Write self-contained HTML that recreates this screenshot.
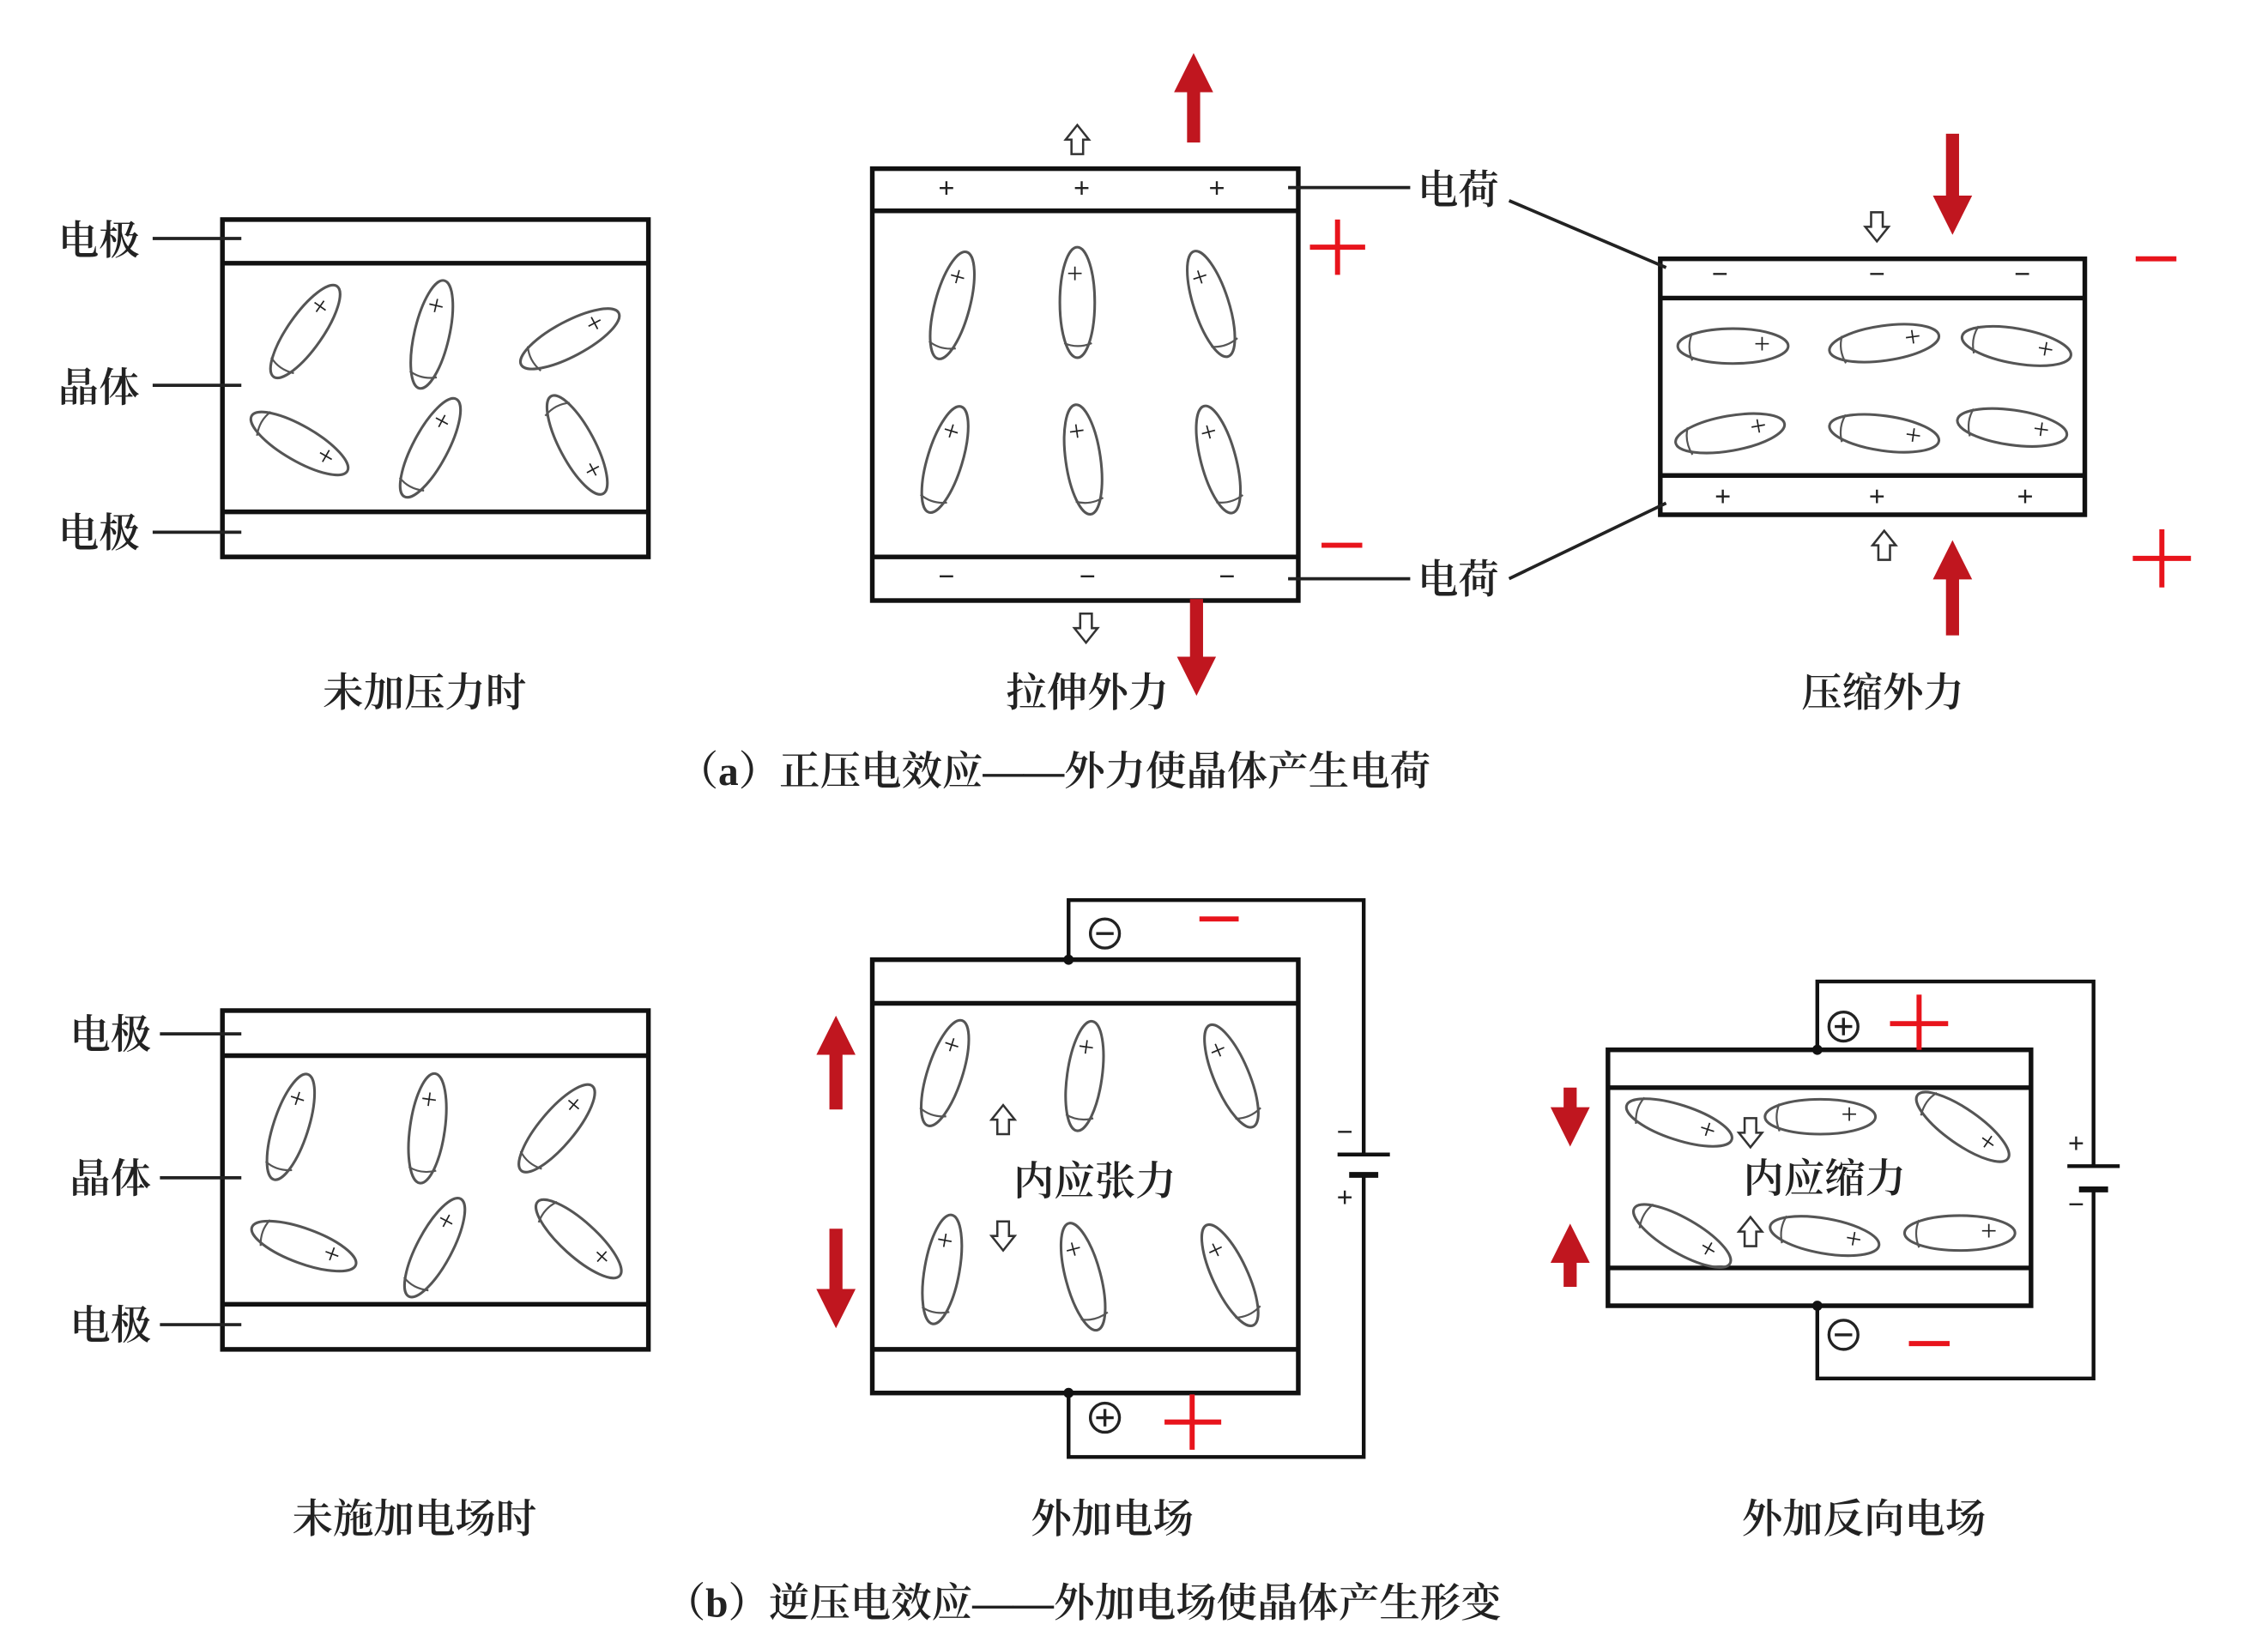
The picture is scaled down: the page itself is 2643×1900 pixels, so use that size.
<!DOCTYPE html>
<html><head><meta charset="utf-8"><style>
html,body{margin:0;padding:0;background:#fff;}
svg{display:block;}
text{font-family:"Liberation Serif","Noto Serif CJK SC","Noto Sans CJK SC",serif;fill:#222;}
.t{font-size:28px;font-weight:600;}
.s{font-size:20px;}
</style></head><body>
<svg width="2643" height="1900" viewBox="0 0 1560 1121" preserveAspectRatio="none" xmlns="http://www.w3.org/2000/svg">
<defs>
<marker id="rh" viewBox="0 0 10 10" refX="5" refY="5" markerWidth="3" markerHeight="3.4" orient="auto"><path d="M0,0 L10,5 L0,10 z" fill="#c0161f"/></marker>
<g id="eh"><ellipse rx="38" ry="12" fill="none" stroke="#555" stroke-width="1.8"/><path d="M-28,-9 Q-32,0 -28,10" fill="none" stroke="#555" stroke-width="1.3"/><text x="20" y="5" class="s" font-size="14" text-anchor="middle">+</text></g>
<g id="hol"><path d="M-4,0 L-4,-10 L-8,-10 L0,-20 L8,-10 L4,-10 L4,0 z" fill="#fff" stroke="#333" stroke-width="1.5"/></g>
</defs>

<g stroke="#111" stroke-width="3.2" fill="none">
<rect x="153" y="151" width="293" height="232"/>
<line x1="153" y1="181" x2="446" y2="181"/><line x1="153" y1="352" x2="446" y2="352"/>
<rect x="600" y="116" width="293" height="297"/>
<line x1="600" y1="145" x2="893" y2="145"/><line x1="600" y1="383" x2="893" y2="383"/>
<rect x="1142" y="178" width="292" height="176"/>
<line x1="1142" y1="205" x2="1434" y2="205"/><line x1="1142" y1="327" x2="1434" y2="327"/>
<rect x="153" y="695" width="293" height="233"/>
<line x1="153" y1="726" x2="446" y2="726"/><line x1="153" y1="897" x2="446" y2="897"/>
<rect x="600" y="660" width="293" height="298"/>
<line x1="600" y1="690" x2="893" y2="690"/><line x1="600" y1="928" x2="893" y2="928"/>
<rect x="1106" y="722" width="291" height="176"/>
<line x1="1106" y1="748" x2="1397" y2="748"/><line x1="1106" y1="872" x2="1397" y2="872"/>
</g>

<g stroke="#222" stroke-width="2.2">
<line x1="105" y1="164" x2="166" y2="164"/><line x1="105" y1="265" x2="166" y2="265"/><line x1="105" y1="366" x2="166" y2="366"/>
<line x1="110" y1="711" x2="166" y2="711"/><line x1="110" y1="810" x2="166" y2="810"/><line x1="110" y1="911" x2="166" y2="911"/>
<line x1="886" y1="129" x2="970" y2="129"/><line x1="886" y1="398" x2="970" y2="398"/>
<line x1="1038" y1="138" x2="1146" y2="184"/><line x1="1038" y1="398" x2="1146" y2="346"/>
</g>

<g stroke="#111" stroke-width="2.6" fill="none">
<polyline points="735,660 735,619 938,619 938,794"/>
<polyline points="938,808 938,1002 735,1002 735,958"/>
<line x1="920" y1="794" x2="956" y2="794"/><line x1="928" y1="808" x2="948" y2="808" stroke-width="4"/>
<polyline points="1250,722 1250,675 1440,675 1440,802"/>
<polyline points="1440,818 1440,948 1250,948 1250,898"/>
<line x1="1422" y1="802" x2="1458" y2="802"/><line x1="1430" y1="818" x2="1450" y2="818" stroke-width="4"/>
</g>
<circle cx="735" cy="660" r="3.5" fill="#111"/><circle cx="735" cy="958" r="3.5" fill="#111"/>
<circle cx="1250" cy="722" r="3.5" fill="#111"/><circle cx="1250" cy="898" r="3.5" fill="#111"/>

<use href="#eh" transform="translate(210,228) rotate(-55)"/>
<use href="#eh" transform="translate(297,230) rotate(-77)"/>
<use href="#eh" transform="translate(392,233) rotate(-28)"/>
<use href="#eh" transform="translate(206,305) rotate(30)"/>
<use href="#eh" transform="translate(296,308) rotate(-62)"/>
<use href="#eh" transform="translate(397,306) rotate(62)"/>
<use href="#eh" transform="translate(655,210) rotate(-75)"/>
<use href="#eh" transform="translate(741,208) rotate(-90)"/>
<use href="#eh" transform="translate(833,209) rotate(-108)"/>
<use href="#eh" transform="translate(650,316) rotate(-73)"/>
<use href="#eh" transform="translate(745,316) rotate(-98)"/>
<use href="#eh" transform="translate(838,316) rotate(-105)"/>
<use href="#eh" transform="translate(1192,238)"/>
<use href="#eh" transform="translate(1296,236) rotate(-8)"/>
<use href="#eh" transform="translate(1387,238) rotate(10)"/>
<use href="#eh" transform="translate(1190,298) rotate(-10)"/>
<use href="#eh" transform="translate(1296,298) rotate(8)"/>
<use href="#eh" transform="translate(1384,294) rotate(8)"/>
<use href="#eh" transform="translate(200,775) rotate(-72)"/>
<use href="#eh" transform="translate(294,776) rotate(-82)"/>
<use href="#eh" transform="translate(383,776) rotate(-50)"/>
<use href="#eh" transform="translate(209,857) rotate(20)"/>
<use href="#eh" transform="translate(299,858) rotate(-62)"/>
<use href="#eh" transform="translate(398,852) rotate(42)"/>
<use href="#eh" transform="translate(650,738) rotate(-72)"/>
<use href="#eh" transform="translate(746,740) rotate(-82)"/>
<use href="#eh" transform="translate(847,740) rotate(-113)"/>
<use href="#eh" transform="translate(648,873) rotate(-80)"/>
<use href="#eh" transform="translate(745,878) rotate(-105)"/>
<use href="#eh" transform="translate(846,877) rotate(-115)"/>
<use href="#eh" transform="translate(1155,772) rotate(18)"/>
<use href="#eh" transform="translate(1252,768)"/>
<use href="#eh" transform="translate(1350,775) rotate(35)"/>
<use href="#eh" transform="translate(1157,850) rotate(30)"/>
<use href="#eh" transform="translate(1255,850) rotate(10)"/>
<use href="#eh" transform="translate(1348,848)"/>

<g class="s" text-anchor="middle" font-weight="bold">
<text x="651" y="136">+</text><text x="744" y="136">+</text><text x="837" y="136">+</text>
<text x="651" y="403">−</text><text x="748" y="403">−</text><text x="844" y="403">−</text>
<text x="1183" y="195">−</text><text x="1291" y="195">−</text><text x="1391" y="195">−</text>
<text x="1185" y="348">+</text><text x="1291" y="348">+</text><text x="1393" y="348">+</text>
<text x="925" y="785">−</text><text x="925" y="830">+</text>
<text x="1428" y="793">+</text><text x="1428" y="835">−</text>
</g>
<g stroke="#222" stroke-width="2" fill="none">
<circle cx="760" cy="642" r="10"/><line x1="754" y1="642" x2="766" y2="642"/>
<circle cx="760" cy="975" r="10"/><line x1="754" y1="975" x2="766" y2="975"/><line x1="760" y1="969" x2="760" y2="981"/>
<circle cx="1268" cy="706" r="10"/><line x1="1262" y1="706" x2="1274" y2="706"/><line x1="1268" y1="700" x2="1268" y2="712"/>
<circle cx="1268" cy="918" r="10"/><line x1="1262" y1="918" x2="1274" y2="918"/>
</g>

<use href="#hol" transform="translate(741,106)"/>
<use href="#hol" transform="translate(747,422) rotate(180)"/>
<use href="#hol" transform="translate(1291,146) rotate(180)"/>
<use href="#hol" transform="translate(1296,385)"/>
<use href="#hol" transform="translate(690,780)"/>
<use href="#hol" transform="translate(690,840) rotate(180)"/>
<use href="#hol" transform="translate(1204,769) rotate(180)"/>
<use href="#hol" transform="translate(1204,857)"/>

<g stroke="#c0161f" stroke-width="9" marker-end="url(#rh)">
<line x1="821" y1="98" x2="821" y2="50"/>
<line x1="823" y1="412" x2="823" y2="465"/>
<line x1="1343" y1="92" x2="1343" y2="148"/>
<line x1="1343" y1="437" x2="1343" y2="385"/>
<line x1="575" y1="763" x2="575" y2="712"/>
<line x1="575" y1="845" x2="575" y2="900"/>
<line x1="1080" y1="748" x2="1080" y2="775"/>
<line x1="1080" y1="885" x2="1080" y2="855"/>
</g>
<g stroke="#e8141c" stroke-width="3.5">
<line x1="901" y1="170" x2="939" y2="170"/><line x1="920" y1="151" x2="920" y2="189"/>
<line x1="909" y1="375" x2="937" y2="375"/>
<line x1="1469" y1="178" x2="1497" y2="178"/>
<line x1="1467" y1="384" x2="1507" y2="384"/><line x1="1487" y1="364" x2="1487" y2="404"/>
<line x1="825" y1="632" x2="852" y2="632"/>
<line x1="801" y1="978" x2="840" y2="978"/><line x1="820" y1="959" x2="820" y2="997"/>
<line x1="1300" y1="704" x2="1340" y2="704"/><line x1="1320" y1="684" x2="1320" y2="722"/>
<line x1="1313" y1="924" x2="1341" y2="924"/>
</g>

<g class="t">
<text x="40" y="175">电极</text><text x="40" y="276">晶体</text><text x="40" y="376">电极</text>
<text x="48" y="721">电极</text><text x="48" y="820">晶体</text><text x="48" y="921">电极</text>
<text x="975" y="140">电荷</text><text x="975" y="408">电荷</text>
</g>
<g class="t" text-anchor="middle">
<text x="292" y="486">未加压力时</text>
<text x="748" y="486">拉伸外力</text>
<text x="1295" y="486">压缩外力</text>
<text x="725" y="540">（a）正压电效应——外力使晶体产生电荷</text>
<text x="753" y="822">内应张力</text>
<text x="1255" y="820">内应缩力</text>
<text x="285" y="1054">未施加电场时</text>
<text x="765" y="1054">外加电场</text>
<text x="1282" y="1054">外加反向电场</text>
<text x="745" y="1112">（b）逆压电效应——外加电场使晶体产生形变</text>
</g>
</svg>
</body></html>
